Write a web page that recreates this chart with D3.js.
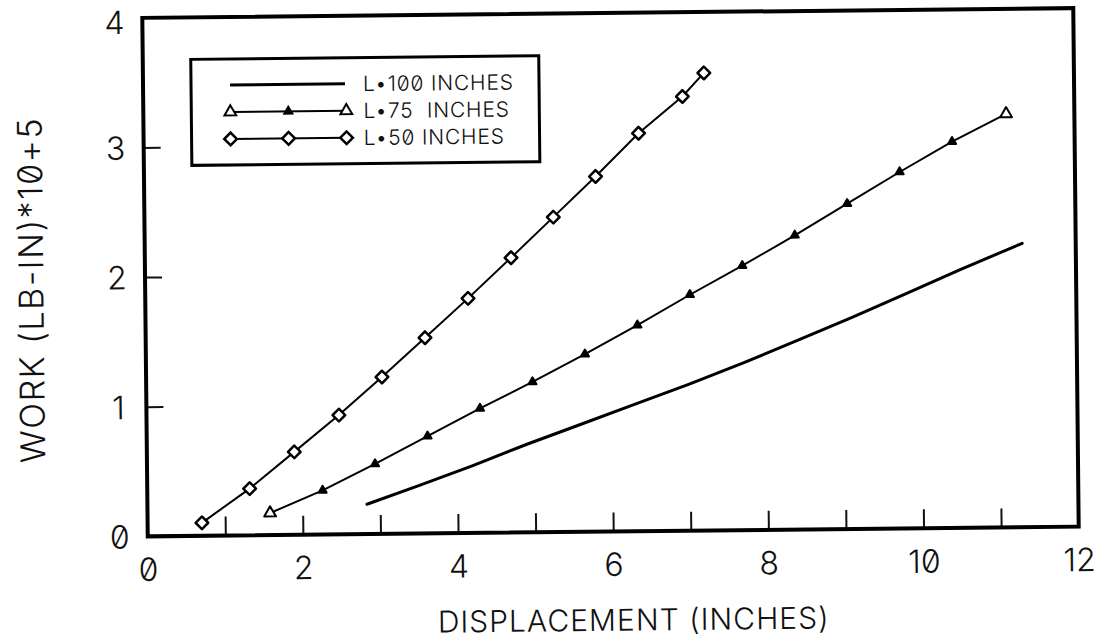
<!DOCTYPE html>
<html>
<head>
<meta charset="utf-8">
<script src="https://cdn.jsdelivr.net/npm/d3@7"></script>
<style>
  html, body { margin: 0; padding: 0; background: #fff; }
  svg { display: block; }
  text { font-family: Inter, "DejaVu Sans", sans-serif; font-weight: 300; fill: #111;
         font-feature-settings: "zero" 1; }
</style>
</head>
<body>
<svg id="chart" width="1097" height="639"></svg>
<script>
// Work done vs. displacement for three lengths L
const xTickValues = [1, 2, 3, 4, 5, 6, 7, 8, 9, 10, 11];
const xTickLabels = [0, 2, 4, 6, 8, 10, 12];
const yTickValues = [1, 2, 3];
const yTickLabels = [0, 1, 2, 3, 4];

const l100X = [2.83, 3.5, 4.2, 4.9, 5.6, 6.3, 7.0, 7.7, 8.4, 9.1, 9.8, 10.5, 11.31];
const l100Y = [0.23, 0.37, 0.52, 0.68, 0.83, 0.98, 1.13, 1.29, 1.46, 1.63, 1.81, 1.99, 2.19];

const l75X = [1.58, 2.26, 2.94, 3.62, 4.30, 4.98, 5.66, 6.34, 7.02, 7.70, 8.38, 9.06, 9.74, 10.42, 11.12];
const l75Y = [0.17, 0.34, 0.54, 0.75, 0.96, 1.16, 1.37, 1.59, 1.82, 2.04, 2.27, 2.51, 2.75, 2.98, 3.19];

const l50X = [0.70, 1.32, 1.90, 2.48, 3.04, 3.60, 4.16, 4.72, 5.27, 5.82, 6.38, 6.95, 7.23];
const l50Y = [0.10, 0.36, 0.64, 0.92, 1.21, 1.51, 1.81, 2.12, 2.43, 2.74, 3.07, 3.35, 3.53];

const legendLabels = ["L\u2022100 INCHES", "L\u202275\u00a0\u00a0INCHES", "L\u202250 INCHES"];
const xTitle = "DISPLACEMENT (INCHES)";
const yTitle = "WORK (LB-IN)*10+5";

const zip = (xs, ys) => xs.map((v, i) => ({ x: v, y: ys[i] }));

const svg = d3.select("#chart");
// the whole sheet sits slightly tilted, as on the plotted page
const root = svg.append("g").attr("transform", "rotate(-0.6, 610, 272)");

const plotLeft = 145, plotRight = 1076, plotTop = 13, plotBottom = 531.5;
const x = d3.scaleLinear().domain([0, 12]).range([plotLeft, plotRight]);
const y = d3.scaleLinear().domain([0, 4]).range([plotBottom, plotTop]);

// inward tick marks
root.append("g")
  .attr("transform", `translate(0,${plotBottom})`)
  .call(d3.axisBottom(x).tickValues(xTickValues).tickSize(-19).tickFormat(""))
  .call(g => g.select(".domain").remove())
  .call(g => g.selectAll("line").attr("stroke", "#111").attr("stroke-width", 2));
root.append("g")
  .attr("transform", `translate(${plotLeft},0)`)
  .call(d3.axisLeft(y).tickValues(yTickValues).tickSize(-17).tickFormat(""))
  .call(g => g.select(".domain").remove())
  .call(g => g.selectAll("line").attr("stroke", "#111").attr("stroke-width", 2));

// tick labels
root.append("g")
  .attr("transform", `translate(0,${plotBottom})`)
  .call(d3.axisBottom(x).tickValues(xTickLabels).tickSize(0).tickPadding(0).tickFormat(d3.format("d")))
  .call(g => g.select(".domain").remove())
  .call(g => g.selectAll("text").attr("y", 33).attr("dy", "0.36em")
    .attr("font-size", 32).attr("fill", "#111"));
root.append("g")
  .attr("transform", `translate(${plotLeft},0)`)
  .call(d3.axisLeft(y).tickValues(yTickLabels).tickSize(0).tickPadding(0).tickFormat(d3.format("d")))
  .call(g => g.select(".domain").remove())
  .call(g => g.selectAll("text").attr("x", -28).attr("dy", "0.36em")
    .attr("text-anchor", "middle").attr("font-size", 32).attr("fill", "#111"))
  .call(g => g.selectAll(".tick").filter(d => d === 4).select("text").attr("y", 4));

// plot frame
root.append("rect")
  .attr("x", plotLeft).attr("y", plotTop)
  .attr("width", plotRight - plotLeft).attr("height", plotBottom - plotTop)
  .attr("fill", "none").attr("stroke", "#000").attr("stroke-width", 4);

// titles
root.append("text")
  .attr("x", 630).attr("y", 620).attr("dy", "0.36em")
  .attr("text-anchor", "middle").attr("font-size", 30)
  .attr("letter-spacing", 1)
  .text(xTitle);
root.append("text")
  .attr("transform", "translate(31,284) rotate(-90)")
  .attr("dy", "0.36em")
  .attr("text-anchor", "middle").attr("font-size", 34)
  .attr("letter-spacing", 1.5)
  .text(yTitle);

const line = d3.line().x(d => x(d.x)).y(d => y(d.y));

const d100 = zip(l100X, l100Y);
const d75 = zip(l75X, l75Y);
const d50 = zip(l50X, l50Y);

root.append("path").datum(d100).attr("d", line)
  .attr("fill", "none").attr("stroke", "#000").attr("stroke-width", 3)
  .attr("stroke-linejoin", "round").attr("stroke-linecap", "round");
root.append("path").datum(d75).attr("d", line)
  .attr("fill", "none").attr("stroke", "#000").attr("stroke-width", 2)
  .attr("stroke-linejoin", "round");
root.append("path").datum(d50).attr("d", line)
  .attr("fill", "none").attr("stroke", "#000").attr("stroke-width", 2)
  .attr("stroke-linejoin", "round");

const triOpen = d3.symbol(d3.symbolTriangle, 60);
const triFill = d3.symbol(d3.symbolTriangle, 28);
const diamond = d3.symbol(d3.symbolSquare, 80);

// L=75: open triangles at the ends, small solid ones between
root.append("g").selectAll("path").data(d75).join("path")
  .attr("transform", d => `translate(${x(d.x)},${y(d.y)})`)
  .attr("d", (d, i) => (i === 0 || i === d75.length - 1) ? triOpen() : triFill())
  .attr("fill", (d, i) => (i === 0 || i === d75.length - 1) ? "#fff" : "#000")
  .attr("stroke", "#000").attr("stroke-width", 2).attr("stroke-linejoin", "round");

// L=50: open diamonds
root.append("g").selectAll("path").data(d50).join("path")
  .attr("transform", d => `translate(${x(d.x)},${y(d.y)}) rotate(45)`)
  .attr("d", diamond())
  .attr("fill", "#fff").attr("stroke", "#000").attr("stroke-width", 2.5)
  .attr("stroke-linejoin", "round");

// legend
const lg = root.append("g");
lg.append("rect").attr("x", 193).attr("y", 55).attr("width", 348).attr("height", 106)
  .attr("fill", "none").attr("stroke", "#000").attr("stroke-width", 3);
const rowsY = [81, 108, 135];
const sx = [232, 290, 348];
lg.append("line").attr("x1", 232).attr("x2", 347).attr("y1", rowsY[0]).attr("y2", rowsY[0])
  .attr("stroke", "#000").attr("stroke-width", 3);
lg.append("line").attr("x1", 232).attr("x2", 348).attr("y1", rowsY[1]).attr("y2", rowsY[1])
  .attr("stroke", "#000").attr("stroke-width", 2);
lg.append("line").attr("x1", 232).attr("x2", 348).attr("y1", rowsY[2]).attr("y2", rowsY[2])
  .attr("stroke", "#000").attr("stroke-width", 2);
lg.selectAll(".lt").data(sx).join("path").attr("class", "lt")
  .attr("transform", d => `translate(${d},${rowsY[1]})`)
  .attr("d", (d, i) => i === 1 ? triFill() : triOpen())
  .attr("fill", (d, i) => i === 1 ? "#000" : "#fff")
  .attr("stroke", "#000").attr("stroke-width", 2);
lg.selectAll(".ld").data(sx).join("path").attr("class", "ld")
  .attr("transform", d => `translate(${d},${rowsY[2]}) rotate(45)`)
  .attr("d", diamond())
  .attr("fill", "#fff").attr("stroke", "#000").attr("stroke-width", 2.5);
lg.selectAll(".ltx").data(legendLabels).join("text").attr("class", "ltx")
  .attr("x", 365).attr("y", (d, i) => rowsY[i]).attr("dy", "0.36em")
  .attr("font-size", 21).attr("letter-spacing", 0.8)
  .text(d => d);
</script>
</body>
</html>
